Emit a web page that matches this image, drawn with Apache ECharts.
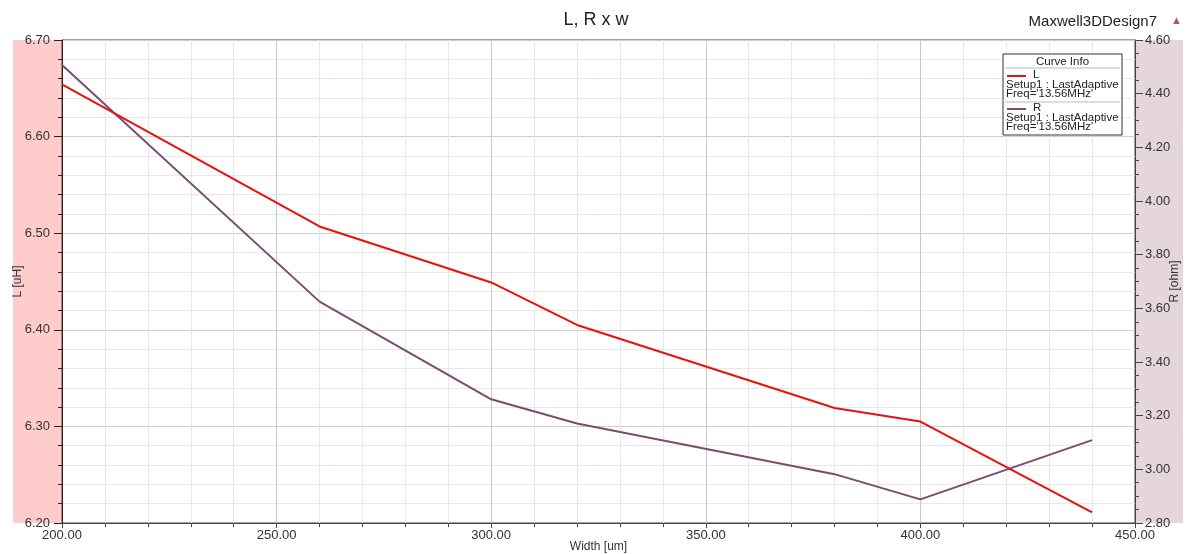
<!DOCTYPE html>
<html>
<head>
<meta charset="utf-8">
<script src="https://cdn.jsdelivr.net/npm/echarts@6/dist/echarts.min.js"></script>
<style>
  html, body { margin: 0; padding: 0; background: #fff; }
  #chart { width: 1192px; height: 554px; }
</style>
</head>
<body>
<div id="chart"></div>
<script>
  // sweep values
  const widthList = [200, 260, 300, 320, 380, 400, 440];
  const lList = [6.654, 6.507, 6.449, 6.405, 6.319, 6.305, 6.211]; // L [uH]
  const rList = [4.507, 3.625, 3.261, 3.171, 2.982, 2.888, 3.109]; // R [ohm]

  const lColor = "#ea1010";
  const rColor = "#7a4d6e";
  const font = "Liberation Sans, Arial, sans-serif";

  const myChart = echarts.init(document.getElementById("chart"), null, { renderer: "canvas" });

  function pairs(ys) {
    return widthList.map((x, i) => [x, ys[i]]);
  }

  const fmt = (v) => v.toFixed(2);

  // curve info box, drawn above the plot
  const boxX = 1003;
  const boxY = 54;

  function infoText(x, y, text, extra) {
    return {
      type: "text",
      z: 100,
      x: boxX + x,
      y: boxY + y,
      style: Object.assign(
        { text: text, fontSize: 11.5, fill: "#222", fontFamily: font, verticalAlign: "top", align: "left" },
        extra || {}
      ),
    };
  }

  function infoLine(x1, y1, x2, y2, stroke, w) {
    return {
      type: "line",
      z: 100,
      shape: { x1: boxX + x1, y1: boxY + y1, x2: boxX + x2, y2: boxY + y2 },
      style: { stroke: stroke, lineWidth: w || 1 },
    };
  }

  const option = {
    backgroundColor: "#fff",
    textStyle: { fontFamily: font },
    animation: false,
    title: [
      {
        text: "L, R x w",
        left: "center",
        top: 6,
        textStyle: { fontSize: 18, fontWeight: "normal", color: "#222", fontFamily: font },
      },
      {
        text: "Maxwell3DDesign7",
        right: 30,
        top: 9,
        textStyle: { fontSize: 15, fontWeight: "normal", color: "#222", fontFamily: font },
      },
    ],
    grid: {
      left: 62,
      right: 57,
      top: 40,
      bottom: 31,
      outerBoundsMode: "none",
      containLabel: false,
      show: true,
      borderColor: "#444",
      borderWidth: 1,
      backgroundColor: "transparent",
    },
    xAxis: {
      type: "value",
      min: 200,
      max: 450,
      interval: 50,
      name: "Width [um]",
      nameLocation: "middle",
      nameGap: 18,
      nameMoveOverlap: false,
      nameTextStyle: { fontSize: 12, color: "#333" },
      axisLine: { lineStyle: { color: "#444" } },
      axisTick: { length: 5, lineStyle: { color: "#444" } },
      minorTick: { show: true, splitNumber: 5, length: 4, lineStyle: { color: "#444" } },
      axisLabel: { formatter: fmt, fontSize: 13, color: "#333", margin: 6 },
      splitLine: { show: true, lineStyle: { color: "#c9c9c9" } },
      minorSplitLine: { show: true, lineStyle: { color: "#e8e8e8" } },
    },
    yAxis: [
      {
        type: "value",
        position: "left",
        min: 6.2,
        max: 6.7,
        interval: 0.1,
        name: "L [uH]",
        nameLocation: "middle",
        nameGap: 38,
        nameMoveOverlap: false,
        nameTextStyle: { fontSize: 12, color: "#333" },
        axisLine: { show: true, lineStyle: { color: "#3a1a1a" } },
        axisTick: { show: true, length: 8, lineStyle: { color: "#3a1a1a" } },
        minorTick: { show: true, splitNumber: 5, length: 4, lineStyle: { color: "#3a1a1a" } },
        axisLabel: { formatter: fmt, fontSize: 13, color: "#333", margin: 12 },
        splitLine: { show: true, lineStyle: { color: "#cfcfcf" } },
        minorSplitLine: { show: true, lineStyle: { color: "#e8e8e8" } },
      },
      {
        type: "value",
        position: "right",
        min: 2.8,
        max: 4.6,
        interval: 0.2,
        name: "R [ohm]",
        nameLocation: "middle",
        nameGap: 34,
        nameMoveOverlap: false,
        nameTextStyle: { fontSize: 12, color: "#333" },
        axisLine: { show: true, lineStyle: { color: "#444" } },
        axisTick: { show: true, length: 8, lineStyle: { color: "#444" } },
        minorTick: { show: true, splitNumber: 4, length: 4, lineStyle: { color: "#444" } },
        axisLabel: { formatter: fmt, fontSize: 13, color: "#333", margin: 10 },
        splitLine: { show: false },
      },
    ],
    series: [
      {
        name: "L",
        type: "line",
        yAxisIndex: 0,
        data: pairs(lList),
        symbol: "none",
        lineStyle: { color: lColor, width: 2 },
        z: 3,
      },
      {
        name: "R",
        type: "line",
        yAxisIndex: 1,
        data: pairs(rList),
        symbol: "none",
        lineStyle: { color: rColor, width: 2 },
        z: 2,
      },
    ],
    graphic: [
      // axis bands
      { type: "rect", z: -10, shape: { x: 13, y: 40, width: 49, height: 483 }, style: { fill: "#ffcccc" } },
      { type: "rect", z: -10, shape: { x: 1135, y: 40, width: 48, height: 483 }, style: { fill: "#e4d6dc" } },
      // little marker next to design name
      { type: "text", x: 1171, y: 15, style: { text: "▲", fontSize: 11, fill: "#c0504d", verticalAlign: "top" } },
      // curve info box
      {
        type: "rect",
        z: 99,
        shape: { x: boxX, y: boxY, width: 119, height: 81 },
        style: { fill: "#fff", stroke: "#333", lineWidth: 1 },
      },
      infoText(59.5, 2, "Curve Info", { align: "center" }),
      infoLine(2, 14, 117, 14, "#bbb"),
      infoLine(4, 22, 23, 22, lColor, 2),
      infoText(30, 15, "L"),
      infoText(3, 25, "Setup1 : LastAdaptive"),
      infoText(3, 34, "Freq='13.56MHz'"),
      infoLine(2, 48, 117, 48, "#bbb"),
      infoLine(4, 55, 23, 55, rColor, 2),
      infoText(30, 48, "R"),
      infoText(3, 58, "Setup1 : LastAdaptive"),
      infoText(3, 67, "Freq='13.56MHz'"),
    ],
  };

  myChart.setOption(option);
</script>
</body>
</html>
